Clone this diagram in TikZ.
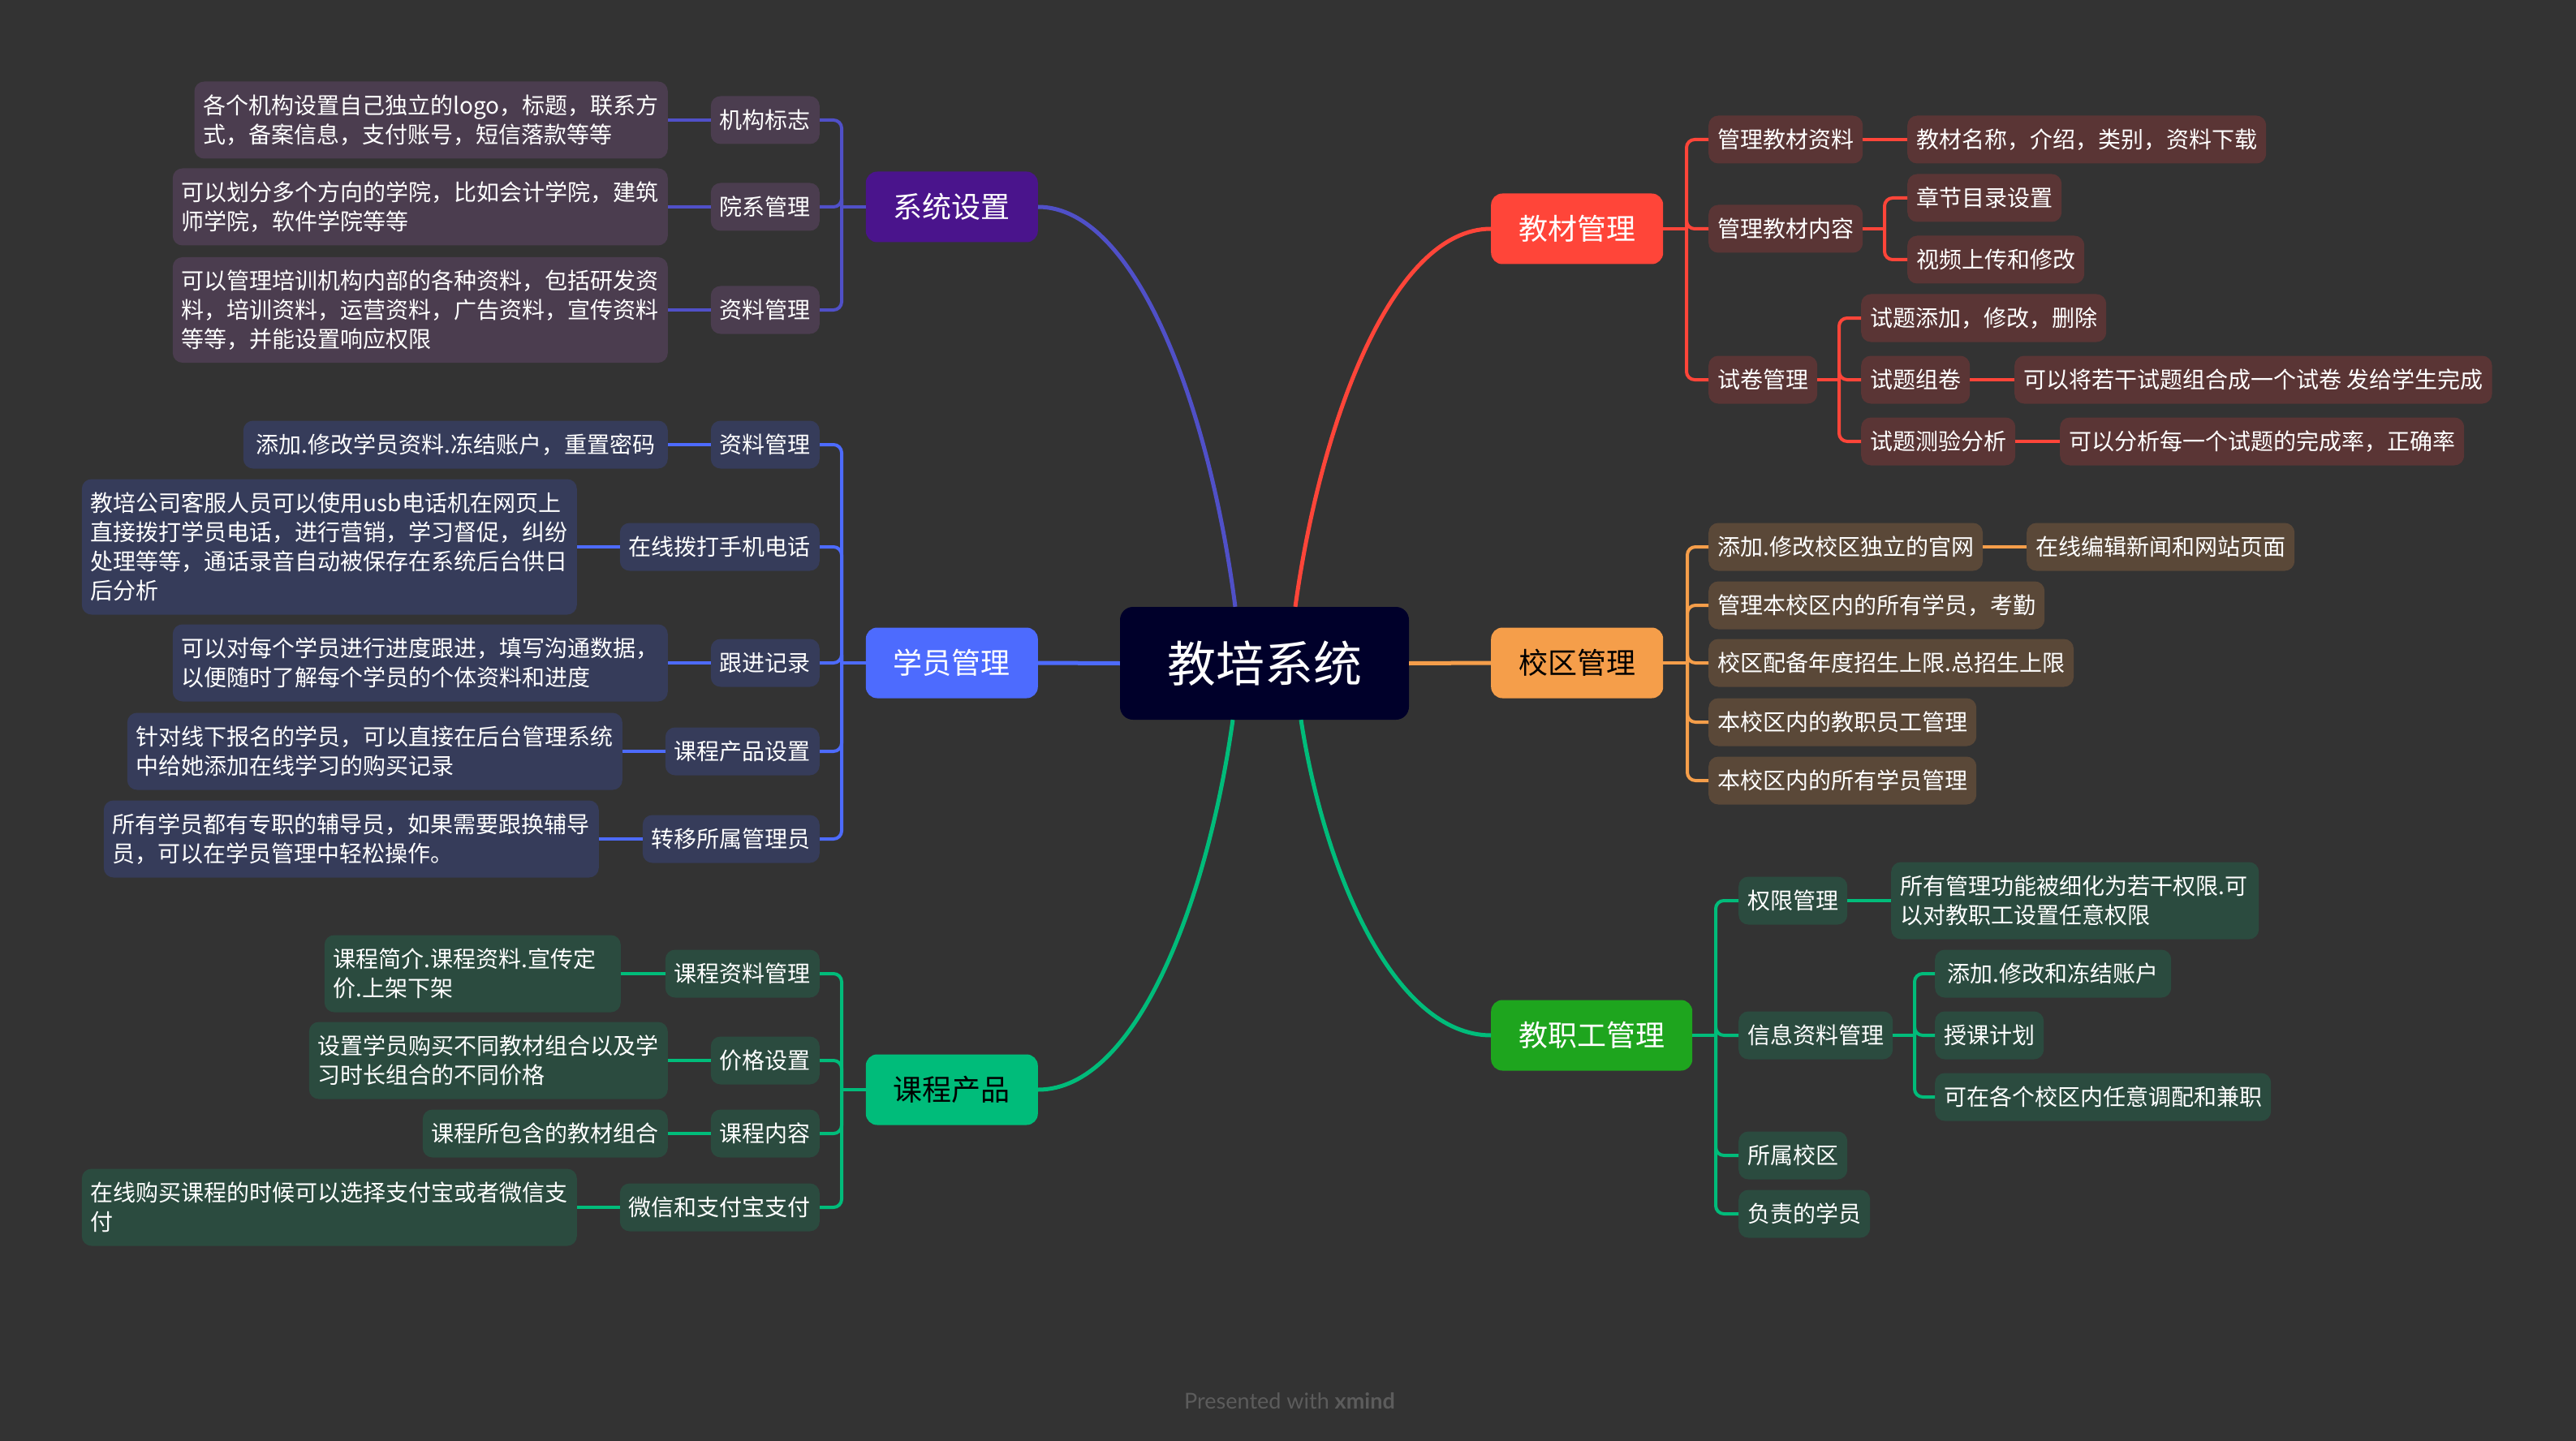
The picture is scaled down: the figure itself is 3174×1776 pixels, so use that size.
\documentclass[tikz,border=0pt]{standalone}
\usepackage{fontspec}
\newfontfamily\cjk{Noto Sans CJK SC}
\newfontfamily\latofont{Lato}
\definecolor{bg}{HTML}{333333}
\definecolor{rootfill}{HTML}{00002A}
\definecolor{fSys}{HTML}{4A148C}
\definecolor{lSys}{HTML}{5050C8}
\definecolor{gSys}{HTML}{4B3D4F}
\definecolor{fStu}{HTML}{4D6BFE}
\definecolor{gStu}{HTML}{363C5A}
\definecolor{fCourse}{HTML}{00BC7A}
\definecolor{gGreen}{HTML}{2B4B3F}
\definecolor{fMat}{HTML}{FF4539}
\definecolor{gMat}{HTML}{5A3535}
\definecolor{fCampus}{HTML}{F59E4A}
\definecolor{gCampus}{HTML}{5A4838}
\definecolor{fStaff}{HTML}{1EA51E}
\definecolor{footgray}{HTML}{5C5C5C}
\tikzset{
  rootbox/.style={font=\cjk\fontsize{60}{70}\selectfont, text=white, fill=rootfill,
    rounded corners=16pt, inner xsep=58pt, inner ysep=0pt, minimum height=139pt},
  topic/.style={font=\cjk\fontsize{36}{44}\selectfont, text=white,
    rounded corners=14pt, inner xsep=34pt, inner ysep=0pt, minimum height=87pt},
  leaf/.style={font=\cjk\fontsize{28}{36}\selectfont, text=white, align=left,
    rounded corners=12pt, inner xsep=11pt, inner ysep=0pt, minimum height=59pt},
  two/.style={minimum height=95pt},
  three/.style={minimum height=130pt},
  four/.style={minimum height=167pt},
  lfSys/.style={leaf, fill=gSys},
  lfStu/.style={leaf, fill=gStu},
  lfGreen/.style={leaf, fill=gGreen},
  lfMat/.style={leaf, fill=gMat},
  lfCampus/.style={leaf, fill=gCampus},
  curve/.style={line width=5pt},
  br/.style={line width=4pt},
  brc/.style={line width=4pt, rounded corners=10pt},
}
\begin{document}
\begin{tikzpicture}[x=1pt,y=-1pt]
\fill[bg] (0,0) rectangle (3174,1776);

% root and main topics
\node[rootbox] (root) at (1558,817.5) {教培系统};
\node[topic, fill=fSys, anchor=east] (sys) at (1279,255) {系统设置};
\node[topic, fill=fStu, anchor=east] (stu) at (1279,817) {学员管理};
\node[topic, fill=fCourse, text=black, anchor=east] (course) at (1279,1343) {课程产品};
\node[topic, fill=fMat, anchor=west] (mat) at (1837,282) {教材管理};
\node[topic, fill=fCampus, text=black, anchor=west] (campus) at (1837,817) {校区管理};
\node[topic, fill=fStaff, anchor=west] (staff) at (1837,1276) {教职工管理};

\draw[curve, lSys] ([xshift=-36pt]root.north) .. controls +(-32,-248) and +(120,0) .. (sys.east);
\draw[curve, fMat] ([xshift=38pt]root.north) .. controls +(32,-233) and +(-120,0) .. (mat.west);
\draw[curve, fCourse] ([xshift=-39pt]root.south) .. controls +(-32,228) and +(120,0) .. (course.east);
\draw[curve, fCourse] ([xshift=45pt]root.south) .. controls +(30,194) and +(-117,0) .. (staff.west);
\draw[curve, fStu] (root.west) -- (stu.east);
\draw[curve, fCampus] (root.east) -- (campus.west);

% ---------- 系统设置 ----------
\node[lfSys, anchor=east] (s1) at (1010,148) {机构标志};
\node[lfSys, anchor=east] (s2) at (1010,255) {院系管理};
\node[lfSys, anchor=east] (s3) at (1010,382) {资料管理};
\node[lfSys, two, anchor=east] (s1d) at (823,148) {各个机构设置自己独立的logo，标题，联系方\\式，备案信息，支付账号，短信落款等等};
\node[lfSys, two, anchor=east] (s2d) at (823,255) {可以划分多个方向的学院，比如会计学院，建筑\\师学院，软件学院等等};
\node[lfSys, three, anchor=east] (s3d) at (823,382) {可以管理培训机构内部的各种资料，包括研发资\\料，培训资料，运营资料，广告资料，宣传资料\\等等，并能设置响应权限};
\coordinate (sysj) at (1037,255);
\draw[br, lSys] (sys.west) -- (sysj);
\foreach \n in {s1,s2,s3} \draw[brc, lSys] (sysj) |- (\n.east);
\draw[br, lSys] (s1.west) -- (s1d.east);
\draw[br, lSys] (s2.west) -- (s2d.east);
\draw[br, lSys] (s3.west) -- (s3d.east);

% ---------- 学员管理 ----------
\node[lfStu, anchor=east] (u1) at (1010,548) {资料管理};
\node[lfStu, anchor=east] (u2) at (1010,674) {在线拨打手机电话};
\node[lfStu, anchor=east] (u3) at (1010,817) {跟进记录};
\node[lfStu, anchor=east] (u4) at (1010,926) {课程产品设置};
\node[lfStu, anchor=east] (u5) at (1010,1034) {转移所属管理员};
\node[lfStu, anchor=east, minimum width=523pt] (u1d) at (823,548) {添加.修改学员资料.冻结账户，重置密码};
\node[lfStu, four, anchor=east] (u2d) at (711,674) {教培公司客服人员可以使用usb电话机在网页上\\直接拨打学员电话，进行营销，学习督促，纠纷\\处理等等，通话录音自动被保存在系统后台供日\\后分析};
\node[lfStu, two, anchor=east] (u3d) at (823,817) {可以对每个学员进行进度跟进，填写沟通数据，\\以便随时了解每个学员的个体资料和进度};
\node[lfStu, two, anchor=east] (u4d) at (767,926) {针对线下报名的学员，可以直接在后台管理系统\\中给她添加在线学习的购买记录};
\node[lfStu, two, anchor=east] (u5d) at (738,1034) {所有学员都有专职的辅导员，如果需要跟换辅导\\员，可以在学员管理中轻松操作。};
\coordinate (stuj) at (1037,817);
\draw[br, fStu] (stu.west) -- (stuj);
\foreach \n in {u1,u2,u3,u4,u5} \draw[brc, fStu] (stuj) |- (\n.east);
\foreach \n in {u1,u2,u3,u4,u5} \draw[br, fStu] (\n.west) -- (\n d.east);

% ---------- 课程产品 ----------
\node[lfGreen, anchor=east] (k1) at (1010,1200) {课程资料管理};
\node[lfGreen, anchor=east] (k2) at (1010,1307) {价格设置};
\node[lfGreen, anchor=east] (k3) at (1010,1397) {课程内容};
\node[lfGreen, anchor=east] (k4) at (1010,1488) {微信和支付宝支付};
\node[lfGreen, two, anchor=east, text width=343pt] (k1d) at (765,1200) {课程简介.课程资料.宣传定\\价.上架下架};
\node[lfGreen, two, anchor=east] (k2d) at (823,1307) {设置学员购买不同教材组合以及学\\习时长组合的不同价格};
\node[lfGreen, anchor=east] (k3d) at (823,1397) {课程所包含的教材组合};
\node[lfGreen, two, anchor=east] (k4d) at (711,1488) {在线购买课程的时候可以选择支付宝或者微信支\\付};
\coordinate (coursej) at (1037,1343);
\draw[br, fCourse] (course.west) -- (coursej);
\foreach \n in {k1,k2,k3,k4} \draw[brc, fCourse] (coursej) |- (\n.east);
\foreach \n in {k1,k2,k3,k4} \draw[br, fCourse] (\n.west) -- (\n d.east);

% ---------- 教材管理 ----------
\node[lfMat, anchor=west] (m1) at (2105,172) {管理教材资料};
\node[lfMat, anchor=west] (m2) at (2105,282) {管理教材内容};
\node[lfMat, anchor=west] (m3) at (2105,468) {试卷管理};
\node[lfMat, anchor=west] (m1d) at (2350,172) {教材名称，介绍，类别，资料下载};
\node[lfMat, anchor=west] (m2a) at (2350,244) {章节目录设置};
\node[lfMat, anchor=west] (m2b) at (2350,320) {视频上传和修改};
\node[lfMat, anchor=west] (m3a) at (2293,392) {试题添加，修改，删除};
\node[lfMat, anchor=west] (m3b) at (2293,468) {试题组卷};
\node[lfMat, anchor=west] (m3c) at (2293,544) {试题测验分析};
\node[lfMat, anchor=west] (m3bd) at (2482,468) {可以将若干试题组合成一个试卷 发给学生完成};
\node[lfMat, anchor=west] (m3cd) at (2538,544) {可以分析每一个试题的完成率，正确率};
\coordinate (matj) at (2078,282);
\draw[br, fMat] (mat.east) -- (matj);
\foreach \n in {m1,m2,m3} \draw[brc, fMat] (matj) |- (\n.west);
\draw[br, fMat] (m1.east) -- (m1d.west);
\coordinate (m2j) at (2322,282);
\draw[br, fMat] (m2.east) -- (m2j);
\foreach \n in {m2a,m2b} \draw[brc, fMat] (m2j) |- (\n.west);
\coordinate (m3j) at (2266,468);
\draw[br, fMat] (m3.east) -- (m3j);
\foreach \n in {m3a,m3b,m3c} \draw[brc, fMat] (m3j) |- (\n.west);
\draw[br, fMat] (m3b.east) -- (m3bd.west);
\draw[br, fMat] (m3c.east) -- (m3cd.west);

% ---------- 校区管理 ----------
\node[lfCampus, anchor=west] (c1) at (2105,674) {添加.修改校区独立的官网};
\node[lfCampus, anchor=west] (c1d) at (2497,674) {在线编辑新闻和网站页面};
\node[lfCampus, anchor=west] (c2) at (2105,746) {管理本校区内的所有学员，考勤};
\node[lfCampus, anchor=west, minimum width=449pt] (c3) at (2105,817) {校区配备年度招生上限.总招生上限};
\node[lfCampus, anchor=west] (c4) at (2105,890) {本校区内的教职员工管理};
\node[lfCampus, anchor=west] (c5) at (2105,962) {本校区内的所有学员管理};
\coordinate (campusj) at (2079,817);
\draw[br, fCampus] (campus.east) -- (campusj);
\foreach \n in {c1,c2,c3,c4,c5} \draw[brc, fCampus] (campusj) |- (\n.west);
\draw[br, fCampus] (c1.east) -- (c1d.west);

% ---------- 教职工管理 ----------
\node[lfGreen, anchor=west] (t1) at (2142,1110) {权限管理};
\node[lfGreen, two, anchor=west, text width=431pt] (t1d) at (2330,1110) {所有管理功能被细化为若干权限.可\\以对教职工设置任意权限};
\node[lfGreen, anchor=west] (t2) at (2142,1276) {信息资料管理};
\node[lfGreen, anchor=west, minimum width=291pt] (t2a) at (2384,1200) {添加.修改和冻结账户};
\node[lfGreen, anchor=west] (t2b) at (2384,1276) {授课计划};
\node[lfGreen, anchor=west] (t2c) at (2384,1352) {可在各个校区内任意调配和兼职};
\node[lfGreen, anchor=west] (t3) at (2142,1424) {所属校区};
\node[lfGreen, anchor=west] (t4) at (2142,1496) {负责的学员};
\coordinate (staffj) at (2114,1276);
\draw[br, fCourse] (staff.east) -- (staffj);
\foreach \n in {t1,t2,t3,t4} \draw[brc, fCourse] (staffj) |- (\n.west);
\draw[br, fCourse] (t1.east) -- (t1d.west);
\coordinate (t2j) at (2359,1276);
\draw[br, fCourse] (t2.east) -- (t2j);
\foreach \n in {t2a,t2b,t2c} \draw[brc, fCourse] (t2j) |- (\n.west);

% footer
\node[font=\latofont\fontsize{27}{31}\selectfont, text=footgray, inner sep=0pt] (foot) at (1589,1727) {Presented with \textbf{xmind}};
\end{tikzpicture}
\end{document}
